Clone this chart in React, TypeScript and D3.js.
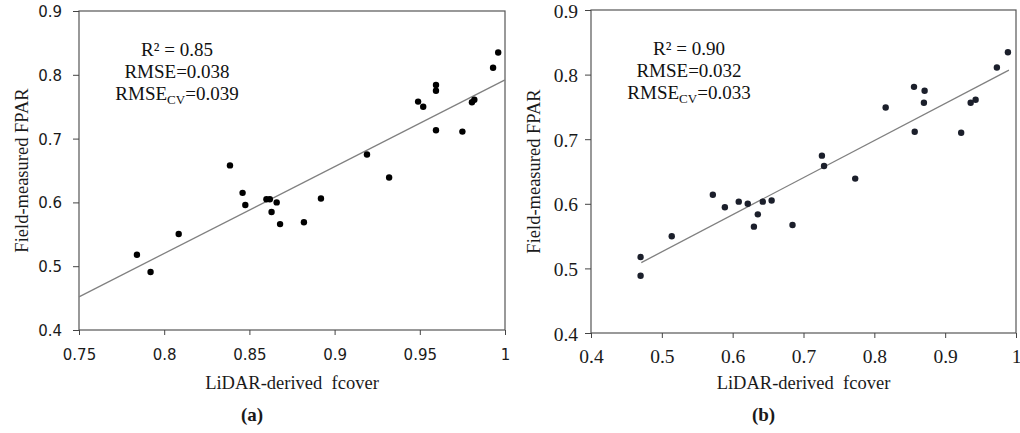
import React, { useEffect, useRef } from "react";
import * as d3 from "d3";

// panel (a): LiDAR-derived fcover vs field-measured FPAR
const fcoverA = [0.784, 0.792, 0.8085, 0.8386, 0.846, 0.8476, 0.860, 0.862, 0.863, 0.866, 0.868, 0.882, 0.892, 0.919, 0.932, 0.949, 0.952, 0.9595, 0.9595, 0.9595, 0.975, 0.9806, 0.982, 0.993, 0.996];
const fparA = [0.518, 0.491, 0.5505, 0.658, 0.615, 0.596, 0.605, 0.605, 0.585, 0.600, 0.566, 0.569, 0.606, 0.675, 0.639, 0.758, 0.750, 0.784, 0.775, 0.713, 0.711, 0.757, 0.761, 0.811, 0.835];
const fitA: [number, number][] = [[0.75, 0.452], [1.0, 0.792]];
const statsA = ["0.85", "0.038", "0.039"];

// panel (b)
const fcoverB = [0.470, 0.470, 0.514, 0.572, 0.589, 0.6086, 0.6213, 0.630, 0.6355, 0.6425, 0.655, 0.6845, 0.726, 0.729, 0.773, 0.816, 0.856, 0.857, 0.870, 0.871, 0.9226, 0.936, 0.943, 0.973, 0.9886];
const fparB = [0.5176, 0.4887, 0.5497, 0.614, 0.5946, 0.6033, 0.600, 0.5646, 0.5837, 0.6033, 0.605, 0.5672, 0.6745, 0.6585, 0.639, 0.749, 0.781, 0.7116, 0.7565, 0.775, 0.710, 0.7565, 0.761, 0.811, 0.8345];
const fitB: [number, number][] = [[0.471, 0.509], [0.99, 0.807]];
const statsB = ["0.90", "0.032", "0.033"];

const xTicksA = [0.75, 0.8, 0.85, 0.9, 0.95, 1];
const xTicksB = [0.4, 0.5, 0.6, 0.7, 0.8, 0.9, 1];
const yTicks = [0.4, 0.5, 0.6, 0.7, 0.8, 0.9];

const serif = "'Liberation Serif', 'Times New Roman', serif";

const panels = [
  {
    xs: fcoverA, ys: fparA, fit: fitA, stats: statsA, xTicks: xTicksA, xDomain: [0.75, 1],
    left: 79, right: 505, top: 11, bottom: 330,
    tickFont: "'DejaVu Sans', sans-serif", tickSize: 15, yLabelGap: 17,
    dot: "#000", label: "(a)",
  },
  {
    xs: fcoverB, ys: fparB, fit: fitB, stats: statsB, xTicks: xTicksB, xDomain: [0.4, 1],
    left: 591, right: 1016, top: 10, bottom: 333,
    tickFont: serif, tickSize: 19.5, yLabelGap: 13,
    dot: "#1b1f2b", label: "(b)",
  },
];

const App = () => {
  const ref = useRef<SVGSVGElement>(null);

  useEffect(() => {
    const svg = d3.select(ref.current);
    svg.selectAll("*").remove();

    panels.forEach((p) => {
      const x = d3.scaleLinear().domain(p.xDomain).range([p.left, p.right]);
      const y = d3.scaleLinear().domain([0.4, 0.9]).range([p.bottom, p.top]);
      const g = svg.append("g");

      // box
      g.append("rect")
        .attr("x", p.left)
        .attr("y", p.top)
        .attr("width", p.right - p.left)
        .attr("height", p.bottom - p.top)
        .attr("fill", "none")
        .attr("stroke", "#555")
        .attr("stroke-width", 1.2);

      const xAxis = g.append("g")
        .attr("transform", `translate(0, ${p.bottom})`)
        .call(d3.axisBottom(x).tickValues(p.xTicks).tickSize(5).tickSizeOuter(0).tickFormat((d) => String(d)));
      xAxis.select(".domain").remove();
      xAxis.selectAll("line").attr("stroke", "#444");
      xAxis.selectAll("text")
        .attr("y", 30)
        .attr("dy", 0)
        .attr("fill", "#1a1a1a")
        .style("font-family", p.tickFont)
        .style("font-size", `${p.tickSize}px`);

      const yAxis = g.append("g")
        .attr("transform", `translate(${p.left}, 0)`)
        .call(d3.axisLeft(y).tickValues(yTicks).tickSize(6).tickSizeOuter(0).tickFormat((d) => String(d)));
      yAxis.select(".domain").remove();
      yAxis.selectAll("line").attr("stroke", "#444");
      yAxis.selectAll("text")
        .attr("x", -p.yLabelGap)
        .attr("dy", "0.36em")
        .attr("fill", "#1a1a1a")
        .style("font-family", p.tickFont)
        .style("font-size", `${p.tickSize}px`);

      // fitted line
      g.append("path")
        .datum(p.fit)
        .attr("d", d3.line<[number, number]>().x((d) => x(d[0])).y((d) => y(d[1])))
        .attr("fill", "none")
        .attr("stroke", "#808080")
        .attr("stroke-width", 1.3);

      g.selectAll("circle.pt")
        .data(p.xs.map((v, i) => [v, p.ys[i]]))
        .enter()
        .append("circle")
        .attr("class", "pt")
        .attr("cx", (d) => x(d[0]))
        .attr("cy", (d) => y(d[1]))
        .attr("r", 3.2)
        .attr("fill", p.dot);

      // stats text
      const cx = p.left + 98;
      const st = g.append("g")
        .attr("text-anchor", "middle")
        .style("font-family", serif)
        .style("font-size", "19px")
        .attr("fill", "#111");
      st.append("text").attr("x", cx).attr("y", p.top + 45).text(`R\u00b2 = ${p.stats[0]}`);
      st.append("text").attr("x", cx).attr("y", p.top + 67).text(`RMSE=${p.stats[1]}`);
      const cv = st.append("text").attr("x", cx).attr("y", p.top + 89);
      cv.append("tspan").text("RMSE");
      cv.append("tspan").attr("dy", 4).style("font-size", "13px").text("CV");
      cv.append("tspan").attr("dy", -4).text(`=${p.stats[2]}`);

      const mid = (p.left + p.right) / 2;
      g.append("text")
        .attr("x", mid)
        .attr("y", 389)
        .attr("text-anchor", "middle")
        .style("font-family", serif)
        .style("font-size", "18.5px")
        .attr("fill", "#1a1a1a")
        .text("LiDAR-derived\u00a0 fcover");

      g.append("text")
        .attr("transform", `translate(${p.left - 51}, ${(p.top + p.bottom) / 2}) rotate(-90)`)
        .attr("text-anchor", "middle")
        .style("font-family", serif)
        .style("font-size", "18.5px")
        .attr("fill", "#1a1a1a")
        .text("Field-measured FPAR");

      g.append("text")
        .attr("x", mid - 40)
        .attr("y", 421)
        .attr("text-anchor", "middle")
        .style("font-family", serif)
        .style("font-size", "19px")
        .style("font-weight", "bold")
        .attr("fill", "#1a1a1a")
        .text(p.label);
    });
  }, []);

  return (
    <svg
      ref={ref}
      width={1020}
      height={433}
      style={{ position: "absolute", left: 0, top: 0, background: "#fff" }}
    ></svg>
  );
};

export default App;
